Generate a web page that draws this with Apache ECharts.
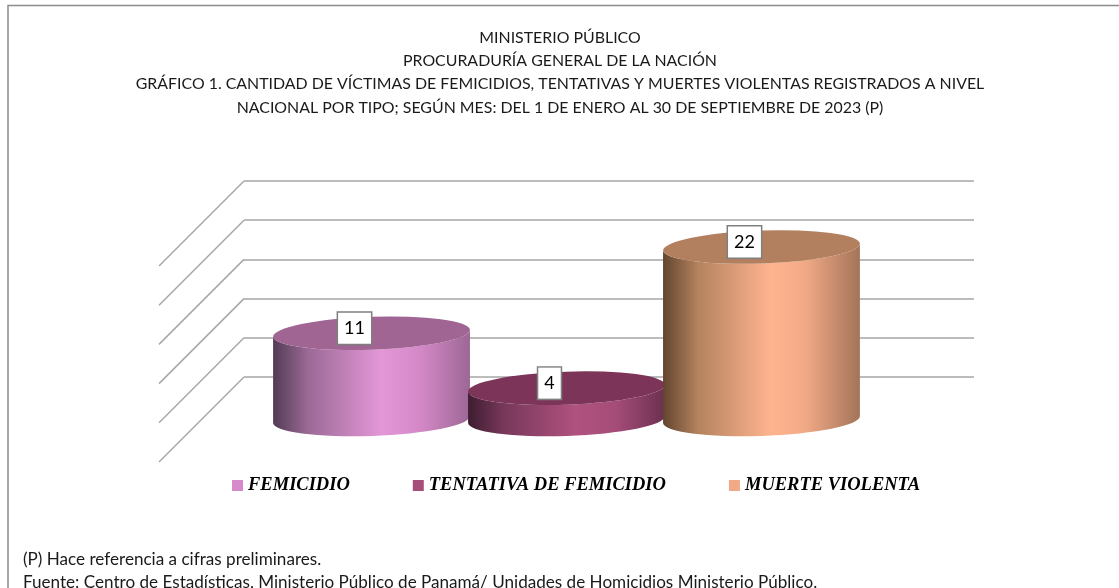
<!DOCTYPE html>
<html lang="es">
<head>
<meta charset="utf-8">
<title>Gráfico 1</title>
<script src="https://cdn.jsdelivr.net/npm/echarts@6/dist/echarts.min.js"></script>
<style>
  html, body { margin: 0; padding: 0; background: #fff; }
  #chart { width: 1119px; height: 588px; overflow: hidden; }
</style>
</head>
<body>
<div id="chart"></div>
<script>
const categories = [''];
const seriesNames = ['FEMICIDIO', 'TENTATIVA DE FEMICIDIO', 'MUERTE VIOLENTA'];
const seriesValues = [11, 4, 22];
const yTicks = [0, 5, 10, 15, 20, 25];
const titleLines = [
  'MINISTERIO PÚBLICO',
  'PROCURADURÍA GENERAL DE LA NACIÓN',
  'GRÁFICO 1. CANTIDAD DE VÍCTIMAS DE FEMICIDIOS, TENTATIVAS Y MUERTES VIOLENTAS REGISTRADOS A NIVEL',
  'NACIONAL POR TIPO; SEGÚN MES: DEL 1 DE ENERO AL 30 DE SEPTIEMBRE DE 2023 (P)'
];
const footLines = [
  '(P) Hace referencia a cifras preliminares.',
  'Fuente: Centro de Estadísticas, Ministerio Público de Panamá/ Unidades de Homicidios Ministerio Público.'
];

// colores de cada cilindro: leyenda, tapa y degradado del cuerpo
const legendColors = ['#d58bc9', '#a64d79', '#f0aa87'];
const topColors = ['#a06593', '#7c3558', '#b3805f'];
const sideStops = [
  [[0, '#523b55'], [0.18, '#9c6a97'], [0.55, '#e497d7'], [0.75, '#d488c6'], [1, '#9c6795']],
  [[0, '#3d1c30'], [0.18, '#77385a'], [0.55, '#b0527f'], [0.75, '#a54c78'], [1, '#6c3050']],
  [[0, '#63452f'], [0.18, '#b5835f'], [0.55, '#ffb48f'], [0.72, '#f2aa86'], [1, '#a37459']]
];

const DEPTH = 85;        // profundidad del piso en px
const ELLIPSE_RY = 16.5;
const TILT = -2;         // inclinacion de las elipses en grados
const GAP_RATIO = 0.744; // espacio del grupo respecto a una barra
const FONT = 'Lato, sans-serif';

const chart = echarts.init(document.getElementById('chart'));

const renderFloor = (params, api) => {
  const p = api.coord([0, api.value(0)]);
  const x = params.coordSys.x;
  return {
    type: 'line',
    shape: { x1: x, y1: p[1], x2: x - DEPTH, y2: p[1] + DEPTH },
    style: { stroke: '#a6a6a6', lineWidth: 1.5 }
  };
};

const renderCylinder = (idx) => (params, api) => {
  const base = api.coord([0, 0]);
  const top = api.coord([0, api.value(1)]);
  const band = api.size([1, 0])[0];
  const barW = band / (seriesNames.length + GAP_RATIO);
  const cx = base[0] + (idx - (seriesNames.length - 1) / 2) * barW - DEPTH / 2;
  const rx = barW / 2 + 1;
  const ry = ELLIPSE_RY;
  const baseY = base[1] + DEPTH / 2;
  const topY = top[1] + DEPTH / 2;
  const t = TILT * Math.PI / 180;
  const dx = rx * Math.cos(t);
  const dy = rx * Math.sin(t);
  const ellipse = (y, sweep, start) =>
    `${start ? 'M' : 'L'}${cx - dx} ${y - dy} A${rx} ${ry} ${TILT} 0 ${sweep} ${cx + dx} ${y + dy}`;
  const body = `${ellipse(baseY, 0, true)} L${cx + dx} ${topY + dy} A${rx} ${ry} ${TILT} 0 1 ${cx - dx} ${topY - dy} Z`;
  const cap = `${ellipse(topY, 0, true)} A${rx} ${ry} ${TILT} 0 0 ${cx - dx} ${topY - dy} Z`;
  return {
    type: 'group',
    children: [
      {
        type: 'path',
        shape: { pathData: body },
        style: {
          fill: new echarts.graphic.LinearGradient(0, 0, 1, 0,
            sideStops[idx].map(s => ({ offset: s[0], color: s[1] })))
        }
      },
      {
        type: 'path',
        shape: { pathData: cap },
        style: { fill: topColors[idx] }
      },
      {
        type: 'text',
        z2: 10,
        style: {
          text: String(api.value(1)),
          x: cx - 17,
          y: topY - 5,
          align: 'center',
          verticalAlign: 'middle',
          font: '18px ' + FONT,
          lineHeight: 19,
          fill: '#000',
          backgroundColor: '#fff',
          borderColor: '#7f7f7f',
          borderWidth: 1.5,
          padding: [6, 6]
        }
      }
    ]
  };
};

const makeTitle = (text, top) => ({
  text,
  left: 560,
  top,
  padding: 0,
  textAlign: 'center',
  textStyle: { fontFamily: FONT, fontWeight: 'normal', fontSize: 15.9, color: '#1a1a1a' }
});

const makeFoot = (text, top) => ({
  text,
  left: 23,
  top,
  padding: 0,
  textStyle: { fontFamily: FONT, fontWeight: 'normal', fontSize: 17.1, color: '#1a1a1a' }
});

chart.setOption({
  animation: false,
  backgroundColor: '#fff',
  title: [
    makeTitle(titleLines[0], 30),
    makeTitle(titleLines[1], 53),
    makeTitle(titleLines[2], 76),
    makeTitle(titleLines[3], 100),
    makeFoot(footLines[0], 551),
    makeFoot(footLines[1], 574)
  ],
  graphic: [
    {
      type: 'rect',
      shape: { x: 8, y: 5.5, width: 1130, height: 620 },
      style: { fill: 'none', stroke: '#8c8c8c', lineWidth: 1.5 },
      silent: true
    }
  ],
  legend: {
    data: seriesNames,
    left: 232,
    top: 476,
    padding: 0,
    itemWidth: 11,
    itemHeight: 11,
    itemGap: 63,
    icon: 'rect',
    textStyle: {
      fontFamily: '"Liberation Serif", serif',
      fontWeight: 'bold',
      fontStyle: 'italic',
      fontSize: 18.5,
      color: '#000'
    }
  },
  grid: { left: 244, top: 181, width: 730, height: 196 },
  xAxis: {
    type: 'category',
    data: categories,
    axisLine: { show: false },
    axisTick: { show: false },
    axisLabel: { show: false }
  },
  yAxis: {
    type: 'value',
    min: yTicks[0],
    max: yTicks[yTicks.length - 1],
    interval: 5,
    axisLine: { show: false },
    axisTick: { show: false },
    axisLabel: { show: false },
    splitLine: { lineStyle: { color: '#a6a6a6', width: 1.5 } }
  },
  series: [
    {
      type: 'custom',
      name: 'piso',
      silent: true,
      z: 1,
      clip: false,
      renderItem: renderFloor,
      encode: { y: 0 },
      data: yTicks.map(v => [v])
    },
    ...seriesNames.map((name, i) => ({
      type: 'custom',
      name,
      z: 2 + i,
      clip: false,
      itemStyle: { color: legendColors[i] },
      renderItem: renderCylinder(i),
      encode: { x: 0, y: 1 },
      data: [[0, seriesValues[i]]]
    }))
  ]
});
</script>
</body>
</html>
